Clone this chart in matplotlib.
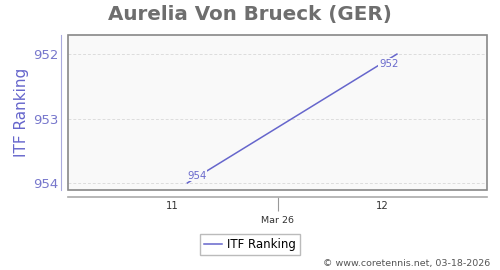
import matplotlib
matplotlib.use('Agg')
import matplotlib.pyplot as plt
from matplotlib.patches import Rectangle

# --- Data ---
title = 'Aurelia Von Brueck (GER)'
weeks = [11.07, 12.07]
rankings = [954, 952]
x_ticks = [11, 12]
x_tick_labels = ['11', '12']
month_ticks = [11.5]
month_labels = ['Mar 26']
y_ticks = [952, 953, 954]

line_color = '#6666cc'
label_color = '#6a6acc'

fig = plt.figure(figsize=(5, 2.7), dpi=100)
ax = fig.add_axes([0.136, 0.2963, 0.838, 0.5737])
ax.set_facecolor('#f9f9f9')

line, = ax.plot(weeks, rankings, color=line_color, linewidth=1.1, label='ITF Ranking', zorder=3)

# point labels
offsets = [(7, 5), (-6, -7)]
for x, y, off in zip(weeks, rankings, offsets):
    ax.annotate(str(y), (x, y), xytext=off, textcoords='offset points',
                ha='center', va='center', fontsize=7.3, color=label_color,
                bbox=dict(boxstyle='square,pad=0.05', fc='#f9f9f9', ec='none'), zorder=4)

ax.set_xlim(10.5, 12.5)
ax.set_ylim(954.11, 951.705)

ax.tick_params(axis='x', which='major', length=0, pad=3, labelsize=7.3, labelcolor='#333333')
ax.tick_params(axis='x', which='minor', length=10, width=0.8, color='#999999', pad=4,
               direction='out', labelsize=6.8, labelcolor='#333333')
ax.tick_params(axis='y', length=0, pad=2, labelsize=9.5, labelcolor='#7777cc')

ax.set_yticks(y_ticks)
ax.set_yticklabels([str(v) for v in y_ticks])
ax.set_xticks(x_ticks)
ax.set_xticklabels(x_tick_labels)
ax.set_xticks(month_ticks, minor=True)
ax.set_xticklabels(month_labels, minor=True)

ax.grid(axis='y', color='#dddddd', linestyle=(0, (3, 2)), linewidth=0.7)
ax.set_axisbelow(True)

# axis lines offset from the frame
ax.spines['right'].set_visible(False)
ax.spines['top'].set_visible(False)
ax.spines['left'].set_position(('outward', 5))
ax.spines['left'].set_color('#aaaadd')
ax.spines['bottom'].set_position(('outward', 5))
ax.spines['bottom'].set_color('#aaaaaa')
ax.spines['bottom'].set_linewidth(1.2)

# frame around plot area
ax.add_patch(Rectangle((0, 0), 1, 1, transform=ax.transAxes, fill=False,
                       ec='#888888', lw=1.2, clip_on=False, zorder=5))

ax.set_ylabel('ITF Ranking', color='#6666cc', fontsize=11, labelpad=3)
fig.text(0.5, 0.948, title, ha='center', va='center', fontsize=14.3,
         fontweight='bold', color='#6e6e6e')

fig.legend(handles=[line], loc='center', bbox_to_anchor=(0.5, 0.095), fontsize=8.5,
           frameon=True, fancybox=False, edgecolor='#aaaaaa', handlelength=1.5,
           handletextpad=0.4, borderpad=0.35)

fig.text(0.98, 0.025, '\u00a9 www.coretennis.net, 03-18-2026', ha='right', va='center',
         fontsize=6.8, color='#555555')

fig.savefig('out.png', dpi=100)
